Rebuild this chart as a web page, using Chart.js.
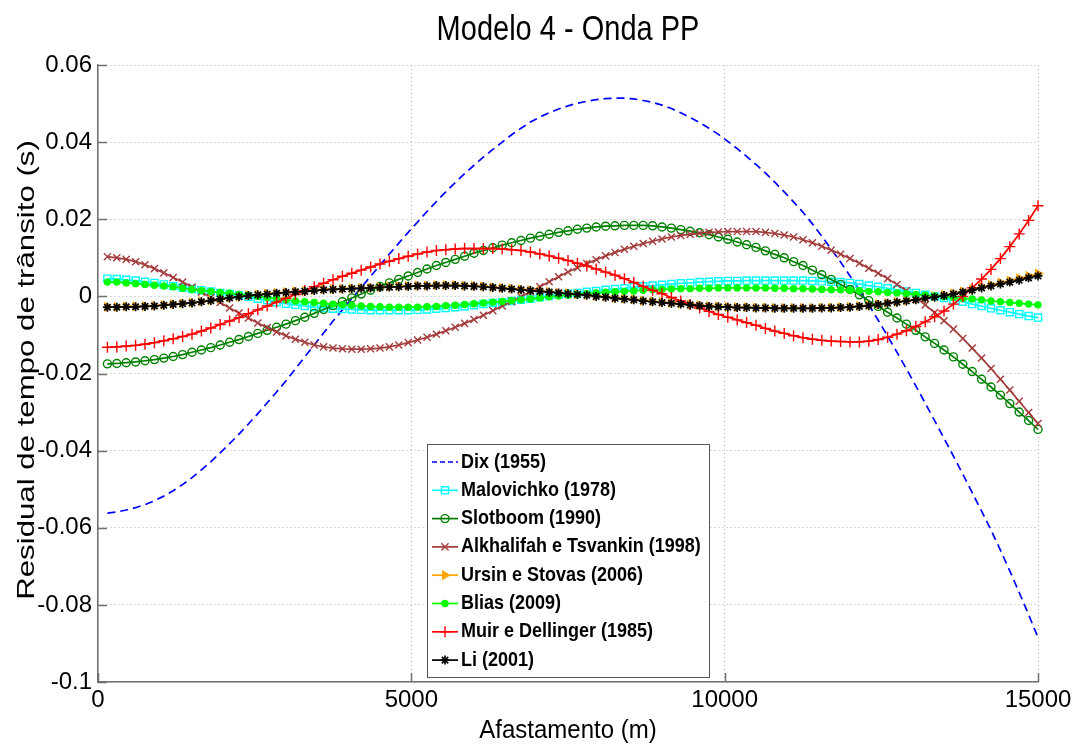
<!DOCTYPE html>
<html>
<head>
<meta charset="utf-8">
<script src="https://cdn.jsdelivr.net/npm/chart.js@4.4.0/dist/chart.umd.min.js"></script>
<style>
  html, body { margin: 0; padding: 0; background: #fff; }
  #wrap { width: 1076px; height: 747px; }
</style>
</head>
<body>
<div id="wrap"><canvas id="residualChart" width="1076" height="747"></canvas></div>
<script>
// afastamento (m)
const xValues = [150,300,450,600,750,900,1050,1200,1350,1500,
  1650,1800,1950,2100,2250,2400,2550,2700,2850,3000,
  3150,3300,3450,3600,3750,3900,4050,4200,4350,4500,
  4650,4800,4950,5100,5250,5400,5550,5700,5850,6000,
  6150,6300,6450,6600,6750,6900,7050,7200,7350,7500,
  7650,7800,7950,8100,8250,8400,8550,8700,8850,9000,
  9150,9300,9450,9600,9750,9900,10050,10200,10350,10500,
  10650,10800,10950,11100,11250,11400,11550,11700,11850,12000,
  12150,12300,12450,12600,12750,12900,13050,13200,13350,13500,
  13650,13800,13950,14100,14250,14400,14550,14700,14850,15000];

const dix = [-0.0562,-0.0559,-0.0554,-0.0548,-0.0540,-0.0530,-0.0518,-0.0504,-0.0488,-0.0470,
  -0.0450,-0.0429,-0.0406,-0.0382,-0.0357,-0.0331,-0.0304,-0.0276,-0.0248,-0.0219,
  -0.0188,-0.0157,-0.0126,-0.0095,-0.0064,-0.0035,-0.0006,0.0023,0.0052,0.0081,
  0.0110,0.0138,0.0166,0.0193,0.0220,0.0246,0.0271,0.0295,0.0318,0.0340,
  0.0361,0.0381,0.0400,0.0419,0.0436,0.0452,0.0465,0.0476,0.0486,0.0494,
  0.0501,0.0506,0.0510,0.0513,0.0514,0.0514,0.0512,0.0508,0.0503,0.0496,
  0.0487,0.0476,0.0464,0.0451,0.0436,0.0420,0.0402,0.0383,0.0363,0.0342,
  0.0320,0.0296,0.0271,0.0245,0.0218,0.0188,0.0156,0.0123,0.0089,0.0053,
  0.0016,-0.0022,-0.0062,-0.0103,-0.0145,-0.0188,-0.0232,-0.0277,-0.0322,-0.0368,
  -0.0414,-0.0461,-0.0509,-0.0557,-0.0606,-0.0658,-0.0712,-0.0768,-0.0825,-0.0885];

const malovichko = [0.0046,0.0045,0.0043,0.0041,0.0038,0.0035,0.0031,0.0027,0.0023,0.0019,
  0.0016,0.0013,0.0009,0.0006,0.0003,-0.0001,-0.0006,-0.0010,-0.0015,-0.0019,
  -0.0022,-0.0025,-0.0028,-0.0030,-0.0032,-0.0033,-0.0034,-0.0035,-0.0036,-0.0036,
  -0.0036,-0.0036,-0.0036,-0.0035,-0.0034,-0.0032,-0.0030,-0.0028,-0.0026,-0.0023,
  -0.0020,-0.0017,-0.0015,-0.0012,-0.0009,-0.0006,-0.0002,0.0001,0.0004,0.0007,
  0.0009,0.0012,0.0014,0.0017,0.0019,0.0021,0.0024,0.0026,0.0028,0.0030,
  0.0032,0.0034,0.0035,0.0037,0.0038,0.0039,0.0040,0.0040,0.0041,0.0041,
  0.0041,0.0041,0.0041,0.0041,0.0041,0.0040,0.0039,0.0038,0.0037,0.0035,
  0.0032,0.0028,0.0025,0.0021,0.0017,0.0013,0.0009,0.0004,0.0000,-0.0004,
  -0.0009,-0.0014,-0.0020,-0.0025,-0.0031,-0.0036,-0.0041,-0.0046,-0.0051,-0.0055];

const slotboom = [-0.0175,-0.0174,-0.0172,-0.0170,-0.0167,-0.0164,-0.0160,-0.0156,-0.0151,-0.0145,
  -0.0139,-0.0133,-0.0126,-0.0119,-0.0112,-0.0104,-0.0096,-0.0088,-0.0080,-0.0072,
  -0.0063,-0.0054,-0.0044,-0.0034,-0.0024,-0.0014,-0.0004,0.0006,0.0016,0.0026,
  0.0035,0.0044,0.0053,0.0062,0.0071,0.0080,0.0088,0.0096,0.0104,0.0112,
  0.0119,0.0126,0.0133,0.0139,0.0145,0.0151,0.0156,0.0161,0.0166,0.0170,
  0.0174,0.0177,0.0180,0.0182,0.0183,0.0184,0.0184,0.0184,0.0183,0.0180,
  0.0177,0.0173,0.0169,0.0165,0.0160,0.0154,0.0148,0.0141,0.0134,0.0127,
  0.0118,0.0109,0.0100,0.0090,0.0080,0.0068,0.0056,0.0044,0.0031,0.0018,
  0.0004,-0.0011,-0.0026,-0.0041,-0.0056,-0.0072,-0.0088,-0.0105,-0.0122,-0.0139,
  -0.0157,-0.0176,-0.0195,-0.0215,-0.0235,-0.0256,-0.0278,-0.0300,-0.0322,-0.0345];

const alkhalifah = [0.0103,0.0100,0.0096,0.0090,0.0082,0.0072,0.0061,0.0049,0.0037,0.0024,
  0.0011,-0.0003,-0.0016,-0.0030,-0.0043,-0.0056,-0.0069,-0.0081,-0.0092,-0.0102,
  -0.0111,-0.0119,-0.0126,-0.0131,-0.0134,-0.0136,-0.0137,-0.0137,-0.0136,-0.0134,
  -0.0131,-0.0126,-0.0120,-0.0113,-0.0106,-0.0098,-0.0089,-0.0080,-0.0070,-0.0060,
  -0.0049,-0.0037,-0.0025,-0.0013,-0.0001,0.0012,0.0025,0.0038,0.0051,0.0063,
  0.0074,0.0085,0.0095,0.0105,0.0114,0.0122,0.0130,0.0137,0.0143,0.0149,
  0.0154,0.0158,0.0161,0.0164,0.0166,0.0167,0.0168,0.0168,0.0168,0.0168,
  0.0166,0.0163,0.0159,0.0154,0.0147,0.0139,0.0130,0.0120,0.0109,0.0098,
  0.0086,0.0073,0.0060,0.0046,0.0031,0.0015,-0.0003,-0.0022,-0.0042,-0.0063,
  -0.0085,-0.0109,-0.0134,-0.0160,-0.0187,-0.0215,-0.0243,-0.0272,-0.0301,-0.0330];

const ursin = [-0.0027,-0.0027,-0.0026,-0.0026,-0.0025,-0.0024,-0.0022,-0.0020,-0.0018,-0.0016,
  -0.0013,-0.0010,-0.0006,-0.0003,0.0000,0.0003,0.0005,0.0007,0.0009,0.0011,
  0.0013,0.0014,0.0016,0.0018,0.0019,0.0020,0.0021,0.0022,0.0023,0.0024,
  0.0025,0.0026,0.0027,0.0028,0.0028,0.0029,0.0029,0.0029,0.0028,0.0027,
  0.0026,0.0024,0.0022,0.0020,0.0018,0.0016,0.0014,0.0012,0.0010,0.0008,
  0.0006,0.0004,0.0001,-0.0001,-0.0004,-0.0006,-0.0008,-0.0011,-0.0013,-0.0015,
  -0.0017,-0.0019,-0.0021,-0.0023,-0.0025,-0.0026,-0.0027,-0.0028,-0.0028,-0.0029,
  -0.0029,-0.0030,-0.0030,-0.0030,-0.0030,-0.0030,-0.0029,-0.0029,-0.0028,-0.0027,
  -0.0025,-0.0023,-0.0020,-0.0017,-0.0014,-0.0011,-0.0007,-0.0003,0.0000,0.0004,
  0.0008,0.0013,0.0019,0.0025,0.0030,0.0036,0.0041,0.0047,0.0053,0.0059];

const blias = [0.0037,0.0037,0.0035,0.0033,0.0031,0.0029,0.0027,0.0025,0.0021,0.0018,
  0.0015,0.0013,0.0010,0.0008,0.0005,0.0003,0.0000,-0.0003,-0.0006,-0.0009,
  -0.0012,-0.0014,-0.0016,-0.0018,-0.0020,-0.0022,-0.0023,-0.0025,-0.0026,-0.0027,
  -0.0028,-0.0028,-0.0028,-0.0028,-0.0027,-0.0026,-0.0024,-0.0023,-0.0021,-0.0019,
  -0.0017,-0.0015,-0.0013,-0.0011,-0.0009,-0.0007,-0.0004,-0.0001,0.0001,0.0003,
  0.0005,0.0007,0.0009,0.0011,0.0012,0.0013,0.0014,0.0016,0.0017,0.0018,
  0.0019,0.0020,0.0020,0.0021,0.0021,0.0022,0.0022,0.0022,0.0022,0.0022,
  0.0022,0.0021,0.0021,0.0020,0.0020,0.0019,0.0018,0.0017,0.0017,0.0016,
  0.0015,0.0013,0.0012,0.0010,0.0009,0.0007,0.0005,0.0003,0.0001,-0.0001,
  -0.0003,-0.0005,-0.0007,-0.0009,-0.0012,-0.0014,-0.0016,-0.0018,-0.0020,-0.0022];

const muir = [-0.0132,-0.0131,-0.0129,-0.0127,-0.0124,-0.0120,-0.0115,-0.0110,-0.0104,-0.0098,
  -0.0090,-0.0082,-0.0073,-0.0064,-0.0055,-0.0045,-0.0035,-0.0025,-0.0015,-0.0005,
  0.0005,0.0015,0.0025,0.0034,0.0043,0.0052,0.0060,0.0068,0.0076,0.0084,
  0.0091,0.0098,0.0104,0.0110,0.0115,0.0119,0.0121,0.0123,0.0124,0.0124,
  0.0124,0.0124,0.0123,0.0121,0.0119,0.0115,0.0110,0.0105,0.0099,0.0093,
  0.0086,0.0079,0.0071,0.0063,0.0055,0.0046,0.0036,0.0026,0.0016,0.0007,
  -0.0003,-0.0012,-0.0021,-0.0030,-0.0039,-0.0047,-0.0054,-0.0061,-0.0068,-0.0075,
  -0.0083,-0.0090,-0.0096,-0.0102,-0.0107,-0.0111,-0.0114,-0.0116,-0.0117,-0.0118,
  -0.0118,-0.0116,-0.0112,-0.0106,-0.0098,-0.0089,-0.0078,-0.0066,-0.0053,-0.0038,
  -0.0020,0.0000,0.0022,0.0045,0.0070,0.0098,0.0129,0.0162,0.0197,0.0235];

const li = [-0.0028,-0.0028,-0.0027,-0.0027,-0.0026,-0.0025,-0.0023,-0.0021,-0.0019,-0.0017,
  -0.0014,-0.0011,-0.0007,-0.0004,-0.0001,0.0002,0.0004,0.0006,0.0008,0.0010,
  0.0012,0.0013,0.0015,0.0017,0.0018,0.0019,0.0020,0.0021,0.0022,0.0023,
  0.0024,0.0025,0.0026,0.0027,0.0027,0.0028,0.0028,0.0028,0.0027,0.0026,
  0.0025,0.0023,0.0021,0.0019,0.0017,0.0015,0.0013,0.0011,0.0009,0.0007,
  0.0005,0.0003,0.0000,-0.0002,-0.0005,-0.0007,-0.0009,-0.0012,-0.0014,-0.0016,
  -0.0018,-0.0020,-0.0022,-0.0024,-0.0026,-0.0027,-0.0028,-0.0029,-0.0029,-0.0030,
  -0.0030,-0.0031,-0.0031,-0.0031,-0.0031,-0.0031,-0.0030,-0.0030,-0.0029,-0.0028,
  -0.0026,-0.0024,-0.0021,-0.0018,-0.0015,-0.0012,-0.0009,-0.0005,-0.0002,0.0002,
  0.0006,0.0011,0.0016,0.0022,0.0027,0.0032,0.0037,0.0042,0.0048,0.0053];

const seriesNames = ['Dix (1955)', 'Malovichko (1978)', 'Slotboom (1990)', 'Alkhalifah e Tsvankin (1998)',
  'Ursin e Stovas (2006)', 'Blias (2009)', 'Muir e Dellinger (1985)', 'Li (2001)'];

const xTickValues = [0, 5000, 10000, 15000];
const xTickLabels = ['0', '5000', '10000', '15000'];
const yTickValues = [-0.1, -0.08, -0.06, -0.04, -0.02, 0, 0.02, 0.04, 0.06];
const yTickLabels = ['-0.1', '-0.08', '-0.06', '-0.04', '-0.02', '0', '0.02', '0.04', '0.06'];

const FONT = "'Liberation Sans', Arial, Helvetica, sans-serif";

const toPoints = ys => xValues.map((x, i) => ({ x: x, y: ys[i] }));

function serie(label, ys, color, style) {
  return Object.assign({
    label: label,
    data: toPoints(ys),
    borderColor: color,
    backgroundColor: color,
    borderWidth: 1.7,
    pointBorderColor: color,
    pointBackgroundColor: 'rgba(0,0,0,0)',
    pointBorderWidth: 1.4,
    pointRadius: 4,
    pointHoverRadius: 4,
    tension: 0,
    clip: false
  }, style);
}

const datasets = [
  serie(seriesNames[0], dix, '#0000ff', { pointRadius: 0, borderDash: [8, 5], order: 7 }),
  serie(seriesNames[1], malovichko, '#00ffff', { pointStyle: 'rect', pointRadius: 5, order: 6 }),
  serie(seriesNames[2], slotboom, '#008000', { pointStyle: 'circle', pointRadius: 4, order: 5 }),
  serie(seriesNames[3], alkhalifah, '#a33c3c', { pointStyle: 'crossRot', pointRadius: 5, order: 4 }),
  serie(seriesNames[4], ursin, '#ffa500', { pointStyle: 'triangle', pointRotation: 90, pointRadius: 4.5, pointBackgroundColor: '#ffa500', order: 3 }),
  serie(seriesNames[5], blias, '#00ff00', { pointStyle: 'circle', pointRadius: 3, pointBackgroundColor: '#00ff00', order: 2 }),
  serie(seriesNames[6], muir, '#ff0000', { pointStyle: 'cross', pointRadius: 5.5, order: 1 }),
  serie(seriesNames[7], li, '#000000', { pointStyle: 'star', pointRadius: 4.5, pointBorderWidth: 1.7, order: 0 })
];

// fundo branco, marcas dos eixos, títulos e legenda
const matlabLook = {
  id: 'matlabLook',
  beforeDraw(chart) {
    const ctx = chart.ctx;
    ctx.save();
    ctx.fillStyle = '#fff';
    ctx.fillRect(0, 0, chart.width, chart.height);
    ctx.restore();
  },
  afterDraw(chart) {
    const ctx = chart.ctx;
    const a = chart.chartArea;
    const xs = chart.scales.x, ys = chart.scales.y;

    // ticks para dentro
    ctx.save();
    ctx.strokeStyle = '#707070';
    ctx.lineWidth = 1.5;
    ctx.beginPath();
    yTickValues.forEach(v => {
      const py = Math.round(ys.getPixelForValue(v)) + 0.5;
      ctx.moveTo(a.left, py); ctx.lineTo(a.left + 9, py);
    });
    xTickValues.forEach(v => {
      const px = Math.round(xs.getPixelForValue(v)) + 0.5;
      ctx.moveTo(px, a.bottom); ctx.lineTo(px, a.bottom - 9);
    });
    ctx.stroke();
    ctx.restore();

    // títulos
    ctx.save();
    ctx.fillStyle = '#000';
    ctx.textAlign = 'center';
    ctx.textBaseline = 'middle';
    ctx.font = '29px ' + FONT;
    ctx.translate((a.left + a.right) / 2, 30);
    ctx.scale(1, 1.2);
    ctx.fillText('Modelo 4 - Onda PP', 0, 0);
    ctx.restore();

    ctx.save();
    ctx.fillStyle = '#000';
    ctx.textAlign = 'center';
    ctx.textBaseline = 'middle';
    ctx.font = '24px ' + FONT;
    ctx.translate((a.left + a.right) / 2, 731);
    ctx.scale(1, 1.1);
    ctx.fillText('Afastamento (m)', 0, 0);
    ctx.restore();

    ctx.save();
    ctx.fillStyle = '#000';
    ctx.textAlign = 'center';
    ctx.textBaseline = 'middle';
    ctx.font = '24px ' + FONT;
    ctx.translate(27, 370);
    ctx.rotate(-Math.PI / 2);
    ctx.scale(1.3, 1);
    ctx.fillText('Residual de tempo de trânsito (s)', 0, 0);
    ctx.restore();

    // legenda
    const box = { x: 427, y: 444, w: 282, h: 233 };
    ctx.save();
    ctx.fillStyle = '#fff';
    ctx.fillRect(box.x, box.y, box.w, box.h);
    ctx.strokeStyle = '#555';
    ctx.lineWidth = 1;
    ctx.strokeRect(box.x + 0.5, box.y + 0.5, box.w, box.h);
    chart.data.datasets.forEach((ds, i) => {
      const cy = 462 + i * 28.3;
      ctx.strokeStyle = ds.borderColor;
      ctx.lineWidth = ds.borderWidth;
      ctx.setLineDash(ds.borderDash ? [5, 3] : []);
      ctx.beginPath();
      ctx.moveTo(432, cy); ctx.lineTo(458, cy);
      ctx.stroke();
      ctx.setLineDash([]);
      if (ds.pointRadius > 0 && Chart.helpers && Chart.helpers.drawPoint) {
        ctx.fillStyle = ds.pointBackgroundColor;
        ctx.strokeStyle = ds.pointBorderColor;
        ctx.lineWidth = ds.pointBorderWidth;
        Chart.helpers.drawPoint(ctx, {
          pointStyle: ds.pointStyle, radius: ds.pointRadius,
          rotation: ds.pointRotation || 0, borderWidth: ds.pointBorderWidth
        }, 445, cy);
      }
      ctx.save();
      ctx.fillStyle = '#000';
      ctx.font = 'bold 18px ' + FONT;
      ctx.textAlign = 'left';
      ctx.textBaseline = 'middle';
      ctx.translate(461, cy);
      ctx.scale(1, 1.12);
      ctx.fillText(ds.label, 0, 0);
      ctx.restore();
    });
    ctx.restore();
  }
};

const ctx = document.getElementById('residualChart').getContext('2d');

const residualChart = new Chart(ctx, {
  type: 'line',
  data: { datasets: datasets },
  options: {
    responsive: false,
    animation: false,
    layout: { padding: { left: 0, right: 38, top: 65, bottom: 0 } },
    scales: {
      x: {
        type: 'linear',
        min: 0,
        max: 15000,
        afterBuildTicks: s => { s.ticks = xTickValues.map(v => ({ value: v })); },
        afterFit: s => { s.height = 65; },
        grid: { color: '#b4b4b4', lineWidth: 1, drawTicks: false },
        border: { display: true, color: '#707070', width: 1.5, dash: [1, 3] },
        ticks: {
          padding: 4, color: '#000', maxRotation: 0, autoSkip: false,
          font: { size: 24, family: FONT },
          callback: (v, i) => xTickLabels[i]
        }
      },
      y: {
        type: 'linear',
        min: -0.1,
        max: 0.06,
        afterBuildTicks: s => { s.ticks = yTickValues.map(v => ({ value: v })); },
        afterFit: s => { s.width = 98; },
        grid: { color: '#b4b4b4', lineWidth: 1, drawTicks: false },
        border: { display: true, color: '#707070', width: 1.5, dash: [1, 3] },
        ticks: {
          padding: 6, color: '#000',
          font: { size: 24, family: FONT },
          callback: (v, i) => yTickLabels[i]
        }
      }
    },
    plugins: {
      legend: { display: false },
      title: { display: false },
      tooltip: { enabled: false }
    }
  },
  plugins: [matlabLook]
});
</script>
</body>
</html>
